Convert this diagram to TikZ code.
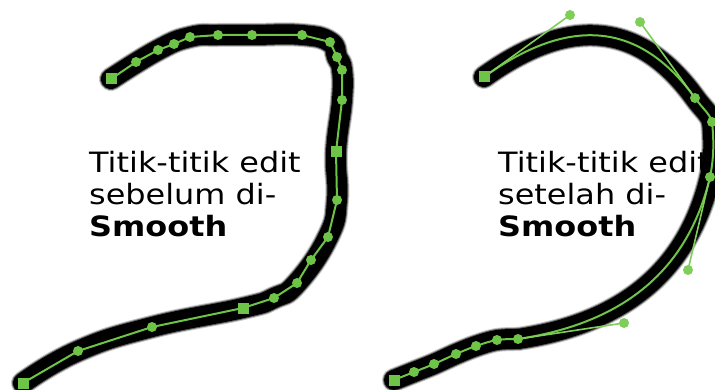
\documentclass[tikz,border=0pt]{standalone}
\usepackage{fontspec}
\setmainfont{DejaVu Sans}[FakeStretch=1.14]
\definecolor{grn}{RGB}{110,196,70}
\definecolor{hgrn}{RGB}{128,206,90}
\begin{document}
\begin{tikzpicture}[x=1pt,y=-1pt,
  haloa/.style={draw=black!22,line width=24pt,line cap=round,line join=round},
  halob/.style={draw=black!60,line width=22pt,line cap=round,line join=round},
  stroke/.style={draw=black,line width=20pt,line cap=round,line join=round},
  gline/.style={draw=grn,line width=2pt,line join=round},
  hline/.style={draw=hgrn,line width=1.6pt},
  dot/.style={circle,fill=grn,inner sep=0pt,minimum size=10pt},
  hdot/.style={circle,fill=hgrn,inner sep=0pt,minimum size=10pt},
  sq/.style={rectangle,fill=grn,inner sep=0pt,minimum size=11pt},
  lbl/.style={anchor=north west,align=left,inner sep=0pt,font=\fontsize{28}{32}\selectfont}]
\useasboundingbox (0,0) rectangle (715,390);
% ---------- left figure ----------
\coordinate (L1) at (111,79);
\coordinate (L2) at (136,62);
\coordinate (L3) at (158,50);
\coordinate (L4) at (174,44);
\coordinate (L5) at (190,37);
\coordinate (L6) at (218,35);
\coordinate (L7) at (252,35);
\coordinate (L8) at (302,35);
\coordinate (L9) at (330,42);
\coordinate (L10) at (337,57);
\coordinate (L11) at (342,70);
\coordinate (L12) at (342,100);
\coordinate (L13) at (336,152);
\coordinate (L14) at (337,200);
\coordinate (L15) at (328,237);
\coordinate (L16) at (311,260);
\coordinate (L17) at (297,283);
\coordinate (L18) at (274,298);
\coordinate (L19) at (243,308);
\coordinate (L20) at (152,327);
\coordinate (L21) at (78,351);
\coordinate (L22) at (23,383);
\foreach \s in {haloa,halob,stroke}
  \draw[\s] plot[smooth,tension=0.8] coordinates {(L1)(L3)(L5)(L6)(L7)(L8)(L9)(L10)(L11)(L12)(L13)(L14)(L15)(L17)(L18)(L19)(L20)(L21)(L22)};
\draw[gline] (L1)--(L2)--(L3)--(L4)--(L5)--(L6)--(L7)--(L8)--(L9)--(L10)--(L11)--(L12)--(L13)--(L14)--(L15)--(L16)--(L17)--(L18)--(L19)--(L20)--(L21)--(L22);
\foreach \n in {2,3,4,5,6,7,8,9,10,11,12,14,15,16,17,18,20,21}
  \node[dot] (dL\n) at (L\n) {};
\foreach \n in {1,13,19,22}
  \node[sq] (dL\n) at (L\n) {};
\node[lbl] (tL) at (89,151) {Titik-titik edit\\sebelum di-\\\textbf{Smooth}};
% ---------- right figure ----------
\coordinate (R1) at (484,77);
\coordinate (H1) at (570,15);
\coordinate (H2) at (640,22);
\coordinate (R2) at (695,98);
\coordinate (R3) at (712,122);
\coordinate (R4) at (710,177);
\coordinate (H3) at (688,270);
\coordinate (H4) at (624,323);
\coordinate (R5) at (518,339);
\coordinate (R6) at (497,340);
\coordinate (R7) at (476,346);
\coordinate (R8) at (456,354);
\coordinate (R9) at (434,364);
\coordinate (R10) at (414,372);
\coordinate (R11) at (394,380);
\foreach \s in {haloa,halob,stroke,gline}{
  \draw[\s] (R1) .. controls (H1) and (H2) .. (R2)
    .. controls (703,109) and (710,114) .. (R3)
    .. controls (714,140) and (714,158) .. (R4)
    .. controls (H3) and (H4) .. (R5);
  \draw[\s] plot[smooth,tension=0.6] coordinates {(R5)(R6)(R7)(R8)(R9)(R10)(R11)};
}
\draw[hline] (R1) -- (H1);
\draw[hline] (R2) -- (H2);
\draw[hline] (R4) -- (H3);
\draw[hline] (R5) -- (H4);
\foreach \n in {H1,H2,H3,H4}
  \node[hdot] (d\n) at (\n) {};
\foreach \n in {R2,R3,R4,R5,R6,R7,R8,R9,R10}
  \node[dot] (d\n) at (\n) {};
\foreach \n in {R1,R11}
  \node[sq] (d\n) at (\n) {};
\node[lbl] (tR) at (498,151) {Titik-titik edit\\setelah di-\\\textbf{Smooth}};
\end{tikzpicture}
\end{document}
